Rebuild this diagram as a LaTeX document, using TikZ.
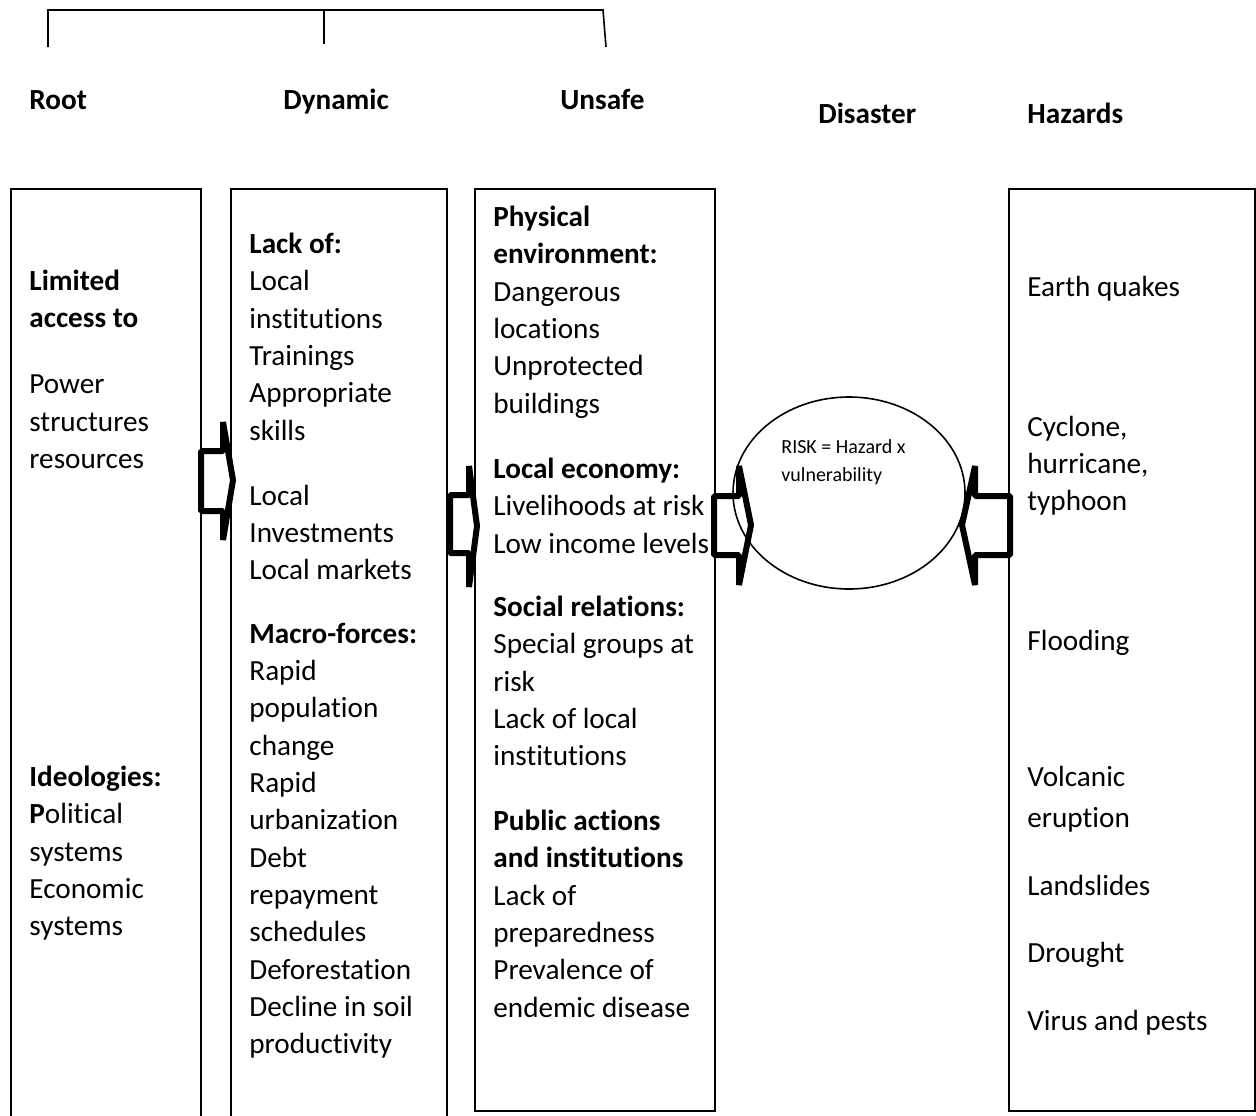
\documentclass[tikz,border=0pt]{standalone}
\usepackage{fontspec}
\setmainfont[Ligatures={NoCommon}]{Carlito}
\usetikzlibrary{positioning,shapes.geometric}
\tikzset{%
	box/.style    = {draw, line width=0.8pt, anchor=north west, inner sep=0pt},
	txt/.style    = {anchor=north west, inner sep=0pt, align=left, yshift=7.2pt, execute at begin node=\strut, font=\fontsize{14.6}{18.65}\selectfont},
	head/.style   = {txt, font=\bfseries\fontsize{14.6}{18.65}\selectfont},
	small/.style  = {anchor=north west, inner sep=0pt, align=left, yshift=5.8pt, execute at begin node=\strut, font=\fontsize{10}{14}\selectfont},
	barrow/.style = {line width=3pt, line join=bevel},
}
\begin{document}
\begin{tikzpicture}[x=0.5pt, y=-0.5pt]
		\useasboundingbox (0,0) rectangle (1256,1115);
		% bracket over the first three columns
		\draw[line width=0.8pt] (48,47) -- (48,10) -- (603,10) -- (606,47);
		\draw[line width=0.8pt] (324,10) -- (324,44);
		
		\node[head] (hroot) at (29,97) {Root};
		\node[head] (hdyn) at (283,97) {Dynamic};
		\node[head] (hunsafe) at (560,97) {Unsafe};
		\node[head] (hdis) at (818,111) {Disaster};
		\node[head] (hhaz) at (1027,111) {Hazards};
		
		\node[box, minimum width=95pt, minimum height=471pt] (root) at (10,188) {};
		\node[box, minimum width=108pt, minimum height=471pt] (dyn) at (230,188) {};
		\node[box, minimum width=120pt, minimum height=461pt] (unsafe) at (474,188) {};
		\node[box, minimum width=123pt, minimum height=461pt] (haz) at (1008,188) {};
		\node[draw, ellipse, line width=0.8pt, minimum width=116pt, minimum height=96pt, inner sep=0pt] (risk) at (849,493) {};
		
		% root causes
		\node[txt] (r1) at (29,284) {\textbf{Limited}\\\textbf{access to}};
		\node[txt] (r2) at (29,389) {Power\\structures\\resources};
		\node[txt] (r3) at (29,780) {\textbf{Ideologies:}\\\textbf{P}olitical\\systems\\Economic\\systems};
		
		% dynamic pressures
		\node[txt] (d1) at (249,247) {\textbf{Lack of:}\\Local\\institutions\\Trainings\\Appropriate\\skills};
		\node[txt] (d2) at (249,499) {Local\\Investments\\Local markets};
		\node[txt] (d3) at (249,637) {\textbf{Macro-forces:}\\Rapid\\population\\change\\Rapid\\urbanization\\Debt\\repayment\\schedules\\Deforestation\\Decline in soil\\productivity};
		
		% unsafe conditions
		\node[txt] (u1) at (493,220) {\textbf{Physical}\\\textbf{environment:}\\Dangerous\\locations\\Unprotected\\buildings};
		\node[txt] (u2) at (493,472) {\textbf{Local economy:}\\Livelihoods at risk\\Low income levels};
		\node[txt] (u3) at (493,610) {\textbf{Social relations:}\\Special groups at\\risk\\Lack of local\\institutions};
		\node[txt] (u4) at (493,824) {\textbf{Public actions}\\\textbf{and institutions}\\Lack of\\preparedness\\Prevalence of\\endemic disease};
		
		\node[small] (rtxt) at (781,451) {RISK = Hazard x\\vulnerability};
		
		% hazards
		\node[txt] (z1) at (1027,284) {Earth quakes};
		\node[txt] (z2) at (1027,430) {Cyclone,\\hurricane,\\typhoon};
		\node[txt] (z3) at (1027,638) {Flooding};
		\node[txt] (z4) at (1027,780) {Volcanic\\[2pt]eruption};
		\node[txt] (z5) at (1027,883) {Landslides};
		\node[txt] (z6) at (1027,950) {Drought};
		\node[txt] (z7) at (1027,1018) {Virus and pests};
		
		% block arrows
		\draw[barrow] (201,451) -- (223,451) -- (223,422) -- (233,480) -- (223,540) -- (223,511) -- (201,511) -- cycle;
		\draw[barrow] (450,495) -- (469,495) -- (469,466) -- (477,526) -- (469,587) -- (469,553) -- (450,553) -- cycle;
		\draw[barrow] (714,496) -- (739,496) -- (739,466) -- (751,525) -- (739,585) -- (739,555) -- (714,555) -- cycle;
		\draw[barrow] (1010,496) -- (975,496) -- (975,466) -- (962,525) -- (975,585) -- (975,555) -- (1010,555) -- cycle;
\end{tikzpicture}
\end{document}
